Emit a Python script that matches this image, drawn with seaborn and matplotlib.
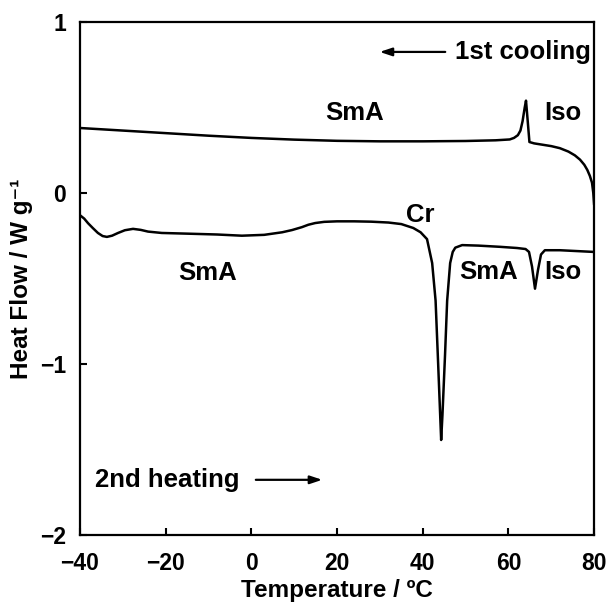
import matplotlib
matplotlib.use("Agg")
import matplotlib.pyplot as plt
import seaborn as sns
import pandas as pd

# 1st cooling curve
cool_T = [-40, -30, -20, -10, 0, 10, 20, 30, 40, 50, 57, 60.3, 61.3, 62.2, 62.8, 63.3, 63.8, 64.1,
          64.5, 64.9, 66, 68, 70, 72, 74, 75.5, 76.7, 77.7, 78.4, 79.0, 79.5, 79.8, 80]
cool_H = [0.38, 0.365, 0.35, 0.335, 0.322, 0.312, 0.305, 0.302, 0.302, 0.304, 0.308, 0.313, 0.322,
          0.338, 0.365, 0.42, 0.5, 0.54, 0.42, 0.298, 0.29, 0.282, 0.274, 0.262, 0.242, 0.22,
          0.195, 0.165, 0.135, 0.1, 0.06, 0.0, -0.07]

# 2nd heating curve
heat_T = [-40, -39, -38.1, -37, -35.8, -34.7, -33.7, -32.5, -31.1, -29.5, -27.6, -25.8, -24.1,
          -20.9, -15, -8, -2.2, 3, 7.2, 9.5, 11.8, 13.3, 14.9, 17, 20, 24, 28, 32, 35, 37.8,
          39.5, 41, 42.2, 43, 43.6, 44.3, 44.6, 45.2, 45.7, 46.4, 47.0, 47.6, 49.2, 53, 58, 62,
          64, 64.8, 65.5, 66.2, 66.9, 67.6, 68.5, 72, 76, 80]
heat_H = [-0.13, -0.15, -0.177, -0.205, -0.234, -0.252, -0.257, -0.25, -0.234, -0.218, -0.21,
          -0.216, -0.226, -0.234, -0.238, -0.243, -0.25, -0.245, -0.23, -0.217, -0.2, -0.186,
          -0.176, -0.169, -0.166, -0.166, -0.168, -0.173, -0.182, -0.205, -0.23, -0.27, -0.41,
          -0.63, -1.0, -1.445, -1.3, -0.95, -0.63, -0.41, -0.345, -0.32, -0.305, -0.308, -0.315,
          -0.322, -0.328, -0.345, -0.43, -0.56, -0.45, -0.36, -0.335, -0.335, -0.34, -0.345]

x_ticks = [-40, -20, 0, 20, 40, 60, 80]
y_ticks = [-2, -1, 0, 1]

phase_labels = ["SmA", "Iso", "Cr", "SmA", "Iso", "SmA"]
phase_x = [24.2, 72.8, 39.4, 55.3, 72.8, -10.1]
phase_y = [0.468, 0.468, -0.129, -0.462, -0.462, -0.468]

sns.set_theme(style="ticks")
plt.rcParams['font.family'] = ['Liberation Sans', 'DejaVu Sans']
plt.rcParams['font.weight'] = 'bold'
plt.rcParams['axes.labelweight'] = 'bold'
plt.rcParams['text.color'] = 'black'
plt.rcParams['axes.labelcolor'] = 'black'
plt.rcParams['xtick.color'] = 'black'
plt.rcParams['ytick.color'] = 'black'

fig = plt.figure(figsize=(6.10, 6.03), dpi=100)
ax = fig.add_axes([0.131, 0.113, 0.843, 0.8505])

df_c = pd.DataFrame({"T": cool_T, "H": cool_H})
df_h = pd.DataFrame({"T": heat_T, "H": heat_H})
sns.lineplot(data=df_c, x="T", y="H", sort=False, estimator=None, color="black", lw=1.8, ax=ax)
sns.lineplot(data=df_h, x="T", y="H", sort=False, estimator=None, color="black", lw=1.8, ax=ax)

ax.set_xlim(-40, 80)
ax.set_ylim(-2, 1)
ax.set_xticks(x_ticks)
ax.set_yticks(y_ticks)
ax.tick_params(direction="in", length=5, width=1.5, labelsize=16.5, colors="black")
ax.tick_params(axis="x", pad=12)
ax.tick_params(axis="y", pad=10)
for lab in ax.get_xticklabels() + ax.get_yticklabels():
    lab.set_fontweight("bold")
for s in ax.spines.values():
    s.set_linewidth(1.6)
    s.set_color("black")

ax.set_xlabel("Temperature / ºC", fontsize=17.5, fontweight="bold", labelpad=3)
ax.set_ylabel("Heat Flow / W g⁻¹", fontsize=17.5, fontweight="bold", labelpad=5)

for t, x, y in zip(phase_labels, phase_x, phase_y):
    ax.text(x, y, t, ha="center", va="center", fontsize=18.5, fontweight="bold")

ax.text(47.6, 0.825, "1st cooling", ha="left", va="center", fontsize=18.5, fontweight="bold")
ax.annotate("", xy=(29.3, 0.825), xytext=(45.9, 0.825),
            arrowprops=dict(arrowstyle="-|>,head_length=0.6,head_width=0.2", color="black", lw=1.6))
ax.text(-36.5, -1.678, "2nd heating", ha="left", va="center", fontsize=18.5, fontweight="bold")
ax.annotate("", xy=(17.2, -1.678), xytext=(0.4, -1.678),
            arrowprops=dict(arrowstyle="-|>,head_length=0.6,head_width=0.2", color="black", lw=1.6))

fig.savefig("out.png", dpi=100, facecolor="white")
